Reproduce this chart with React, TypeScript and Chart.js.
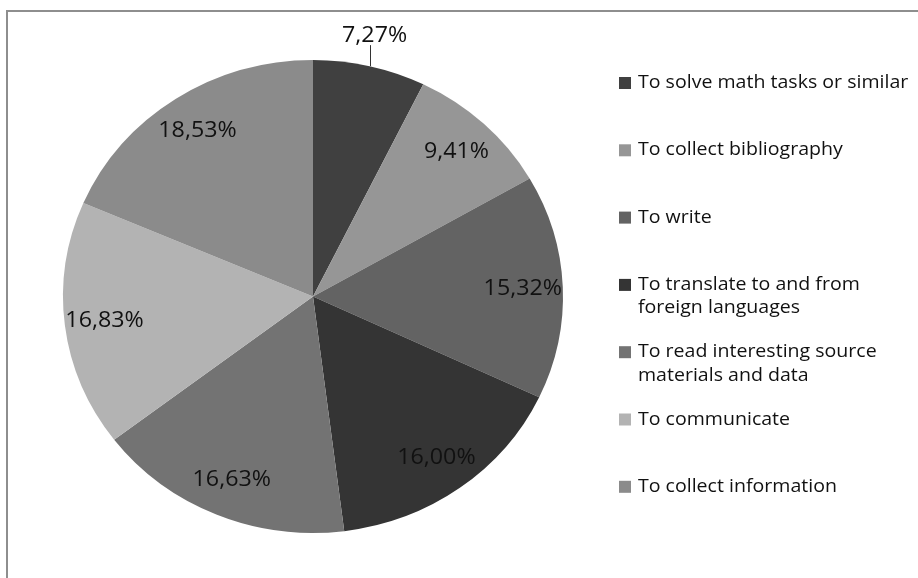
import React, { useEffect, useRef } from 'react';
import { Chart, registerables } from 'chart.js';

Chart.register(...registerables);

// ---- data ----
const categories: string[] = [
  'To solve math tasks or similar',
  'To collect bibliography',
  'To write',
  'To translate to and from foreign languages',
  'To read interesting source materials and data',
  'To communicate',
  'To collect information',
];
const values: number[] = [7.27, 9.41, 15.32, 16.0, 16.63, 16.83, 18.53];
const sliceColors: string[] = ['#404040', '#969696', '#636363', '#343434', '#737373', '#b3b3b3', '#8b8b8b'];

// ---- layout / style ----
const W = 918;
const H = 578;
const STRETCH_X = 250 / 236.5; // the reference is slightly stretched horizontally
const FONT_FAMILY = '"Open Sans", "Noto Sans", sans-serif';
const LABEL_FONT = `22px ${FONT_FAMILY}`;
const LEGEND_FONT = `18.5px ${FONT_FAMILY}`;
const TEXT_COLOR = '#111111';
const LEGEND_X = 619;
const LEGEND_TEXT_X = 638;
const LEGEND_FIRST_BASELINE = 88;
const LEGEND_STEP = 67.3;
const LEGEND_LINE_H = 23.3;
const LEGEND_MAX_W = 262;
const MARKER = 12;
const LABEL_RADIUS = 0.84;
const OUTSIDE_THRESHOLD = 8;

const fmt = (v: number) => v.toFixed(2).replace('.', ',') + '%';

function wrap(ctx: CanvasRenderingContext2D, text: string, maxW: number): string[] {
  const words = text.split(' ');
  const lines: string[] = [];
  let cur = '';
  for (const w of words) {
    const t = cur ? cur + ' ' + w : w;
    if (cur && ctx.measureText(t).width > maxW) {
      lines.push(cur);
      cur = w;
    } else {
      cur = t;
    }
  }
  if (cur) lines.push(cur);
  return lines;
}

function stretchedText(ctx: CanvasRenderingContext2D, txt: string, x: number, y: number) {
  ctx.save();
  ctx.translate(x, y);
  ctx.scale(STRETCH_X, 1);
  ctx.fillText(txt, 0, 0);
  ctx.restore();
}

const framePlugin = {
  id: 'frame',
  beforeDraw(chart: any) {
    const ctx = chart.ctx as CanvasRenderingContext2D;
    ctx.save();
    ctx.fillStyle = '#ffffff';
    ctx.fillRect(0, 0, chart.width, chart.height);
    ctx.strokeStyle = '#8e8e8e';
    ctx.lineWidth = 2;
    ctx.strokeRect(7, 11, 3000, 3000);
    ctx.restore();
  },
};

const stretchPlugin = {
  id: 'stretch',
  beforeDatasetsDraw(chart: any) {
    const ctx = chart.ctx as CanvasRenderingContext2D;
    const arc = chart.getDatasetMeta(0).data[0];
    ctx.save();
    ctx.translate(arc.x, arc.y);
    ctx.scale(STRETCH_X, 1);
    ctx.translate(-arc.x, -arc.y);
  },
  afterDatasetsDraw(chart: any) {
    chart.ctx.restore();
  },
};

const labelsPlugin = {
  id: 'sliceLabels',
  afterDraw(chart: any) {
    const ctx = chart.ctx as CanvasRenderingContext2D;
    const meta = chart.getDatasetMeta(0);
    ctx.save();
    ctx.font = LABEL_FONT;
    ctx.fillStyle = TEXT_COLOR;
    ctx.textAlign = 'center';
    meta.data.forEach((arc: any, i: number) => {
      const { x, y, startAngle, endAngle, outerRadius } = arc.getProps(
        ['x', 'y', 'startAngle', 'endAngle', 'outerRadius'],
        true
      );
      const mid = (startAngle + endAngle) / 2;
      const txt = fmt(values[i]);
      if (values[i] < OUTSIDE_THRESHOLD) {
        const px = x + Math.cos(mid) * outerRadius * STRETCH_X;
        const py = y + Math.sin(mid) * outerRadius;
        ctx.strokeStyle = '#333333';
        ctx.lineWidth = 1;
        ctx.beginPath();
        ctx.moveTo(Math.round(px) + 0.5, py);
        ctx.lineTo(Math.round(px) + 0.5, py - 21);
        ctx.stroke();
        ctx.textBaseline = 'alphabetic';
        stretchedText(ctx, txt, px + 5, py - 24);
      } else {
        const lx = x + Math.cos(mid) * outerRadius * LABEL_RADIUS * STRETCH_X;
        const ly = y + Math.sin(mid) * outerRadius * LABEL_RADIUS;
        ctx.textBaseline = 'middle';
        stretchedText(ctx, txt, lx, ly);
      }
    });
    ctx.restore();
  },
};

const legendPlugin = {
  id: 'sideLegend',
  afterDraw(chart: any) {
    const ctx = chart.ctx as CanvasRenderingContext2D;
    ctx.save();
    ctx.font = LEGEND_FONT;
    ctx.textAlign = 'left';
    ctx.textBaseline = 'alphabetic';
    categories.forEach((label, i) => {
      const base = LEGEND_FIRST_BASELINE + i * LEGEND_STEP;
      ctx.fillStyle = sliceColors[i];
      ctx.fillRect(LEGEND_X, base - MARKER + 1, MARKER, MARKER);
      ctx.fillStyle = TEXT_COLOR;
      const lines = wrap(ctx, label, LEGEND_MAX_W);
      lines.forEach((ln, j) => stretchedText(ctx, ln, LEGEND_TEXT_X, base + j * LEGEND_LINE_H));
    });
    ctx.restore();
  },
};

export default function App() {
  const ref = useRef<HTMLCanvasElement | null>(null);
  useEffect(() => {
    if (!ref.current) return;
    const chart = new Chart(ref.current, {
      type: 'pie',
      data: {
        labels: categories,
        datasets: [
          {
            data: values,
            backgroundColor: sliceColors,
            borderWidth: 0,
            hoverOffset: 0,
          },
        ],
      },
      options: {
        animation: false,
        responsive: false,
        devicePixelRatio: 1,
        events: [],
        layout: { padding: { left: 76.5, right: 368.5, top: 60, bottom: 45 } },
        plugins: {
          legend: { display: false },
          tooltip: { enabled: false },
        },
      },
      plugins: [framePlugin, stretchPlugin, labelsPlugin, legendPlugin],
    });
    return () => chart.destroy();
  }, []);
  return (
    <div style={{ position: 'absolute', left: 0, top: 0, width: W, height: H, overflow: 'hidden' }}>
      <canvas ref={ref} width={W} height={H} style={{ display: 'block' }} />
    </div>
  );
}
